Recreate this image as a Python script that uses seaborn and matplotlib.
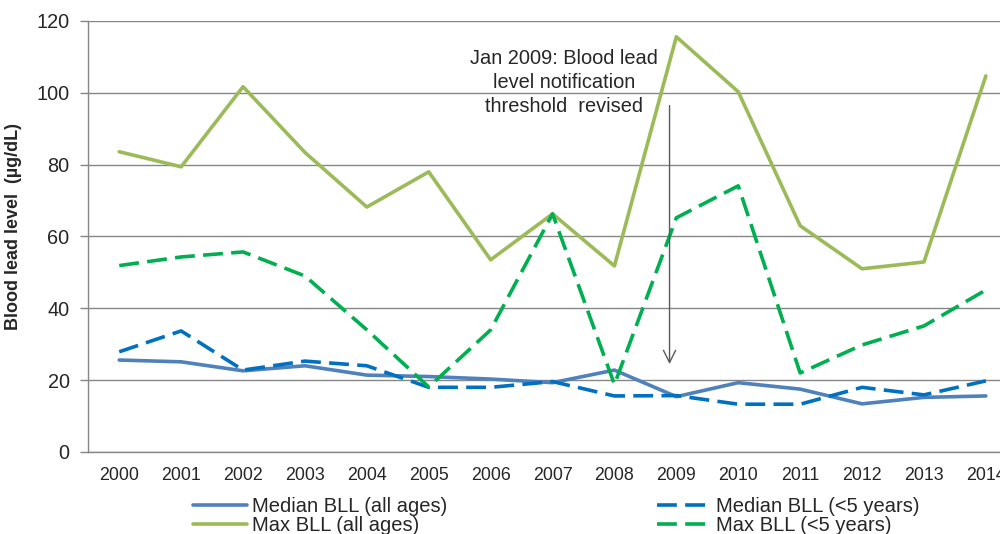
import matplotlib
matplotlib.use('Agg')
import matplotlib.pyplot as plt
import seaborn as sns
import pandas as pd

years = list(range(2000, 2015))
median_all = [25.6, 25.1, 22.6, 24.0, 21.4, 21.0, 20.3, 19.3, 22.8, 15.4, 19.3, 17.5, 13.4, 15.2, 15.6]
median_u5 = [27.9, 33.7, 22.8, 25.3, 24.0, 18.0, 18.0, 19.6, 15.6, 15.7, 13.3, 13.3, 18.0, 15.9, 19.8]
max_all = [83.6, 79.4, 101.7, 83.4, 68.2, 78.0, 53.5, 66.3, 51.8, 115.6, 100.3, 63.0, 51.0, 52.9, 104.7]
max_u5 = [51.9, 54.3, 55.7, 49.0, 34.0, 18.1, 34.0, 66.3, 18.8, 65.2, 74.1, 22.0, 29.8, 35.1, 45.1]

labels = ['Median BLL (all ages)', 'Max BLL (all ages)',
          'Median BLL (<5 years)', 'Max BLL (<5 years)']
colors = ['#4F81BD', '#9BBB59', '#0070C0', '#00B050']
dashed = [False, False, True, True]
series = [median_all, max_all, median_u5, max_u5]

sns.set_style('white')
plt.rcParams['font.family'] = ['Liberation Sans', 'DejaVu Sans']

fig = plt.figure(figsize=(10, 5.34), dpi=100)
ax = fig.add_axes([0.0883, 0.1536, 0.9285, 0.8071])

handles = []
for vals, lab, col, dsh in zip(series, labels, colors, dashed):
    df = pd.DataFrame({'year': years, 'value': vals})
    sns.lineplot(data=df, x='year', y='value', ax=ax, color=col, lw=2.6,
                 label=lab, legend=False)
    ln = ax.lines[-1]
    if dsh:
        ln.set_dashes((5.5, 2.3))
    handles.append(ln)

ax.set_xlim(1999.5, 2014.5)
ax.set_ylim(0, 120)
ax.set_yticks(range(0, 121, 20))
ax.set_xticks(years)
ax.set_xticks([y + 0.5 for y in [1999] + years], minor=True)
ax.tick_params(axis='x', which='major', length=0, pad=11, labelsize=12.8)
ax.tick_params(axis='x', which='minor', length=5.5, width=1, color='#868686', direction='out')
ax.tick_params(axis='y', length=5.5, width=1, color='#868686', pad=8, labelsize=14.3, left=True)
ax.grid(axis='y', color='#868686', lw=1)
ax.grid(axis='x', visible=False)
ax.set_axisbelow(True)
for s in ['top', 'right']:
    ax.spines[s].set_visible(False)
for s in ['left', 'bottom']:
    ax.spines[s].set_color('#868686')
    ax.spines[s].set_linewidth(1)

ax.set_xlabel('')
ax.set_ylabel('Blood lead level  (µg/dL)', fontsize=13, fontweight='bold')
ax.yaxis.set_label_coords(-0.0714, 0.524)

ax.text(2007.18, 102.8, 'Jan 2009: Blood lead\nlevel notification\nthreshold  revised',
        ha='center', va='center', fontsize=14.4, linespacing=1.32)
ax.annotate('', xy=(2008.89, 23.7), xytext=(2008.89, 97.2),
            arrowprops=dict(arrowstyle='->', color='#595959', lw=1, mutation_scale=22))

fig.legend(handles=handles, labels=labels, ncol=2, frameon=False,
           loc='upper left', bbox_to_anchor=(0.193, 0.069), fontsize=14.5,
           handlelength=2.7, handletextpad=0.23, columnspacing=10.4,
           labelspacing=-0.03, borderpad=0, borderaxespad=0)

fig.savefig('out.png', dpi=100)
